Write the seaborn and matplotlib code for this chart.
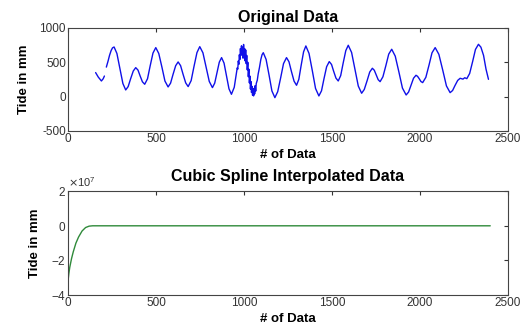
import numpy as np
import pandas as pd
import matplotlib
matplotlib.use("Agg")
import matplotlib.pyplot as plt
import seaborn as sns
from matplotlib.ticker import ScalarFormatter

sns.set_style("white")
plt.rcParams['font.family'] = ['Liberation Sans', 'DejaVu Sans']
plt.rcParams['axes.unicode_minus'] = False
plt.rcParams['text.color'] = 'black'
plt.rcParams['axes.labelcolor'] = 'black'

# ---- Original data, two segments (small gap near x~210)
seg1_x = [157, 172, 190, 200, 207]
seg1_y = [350, 285, 228, 260, 300]

seg2_x = [218, 228, 236, 245, 253, 262, 278, 295, 312, 328, 342, 356, 371, 385,
          398, 410, 423, 436, 452, 467, 483, 499, 516, 534, 551, 569, 583, 597,
          612, 626, 640, 654, 669, 683, 700, 716, 733, 749, 767, 785, 803, 821,
          834, 847, 860, 873, 887, 901, 915, 929, 945, 955,
          962, 965, 968, 971, 974, 977, 980, 983, 986, 989, 992, 995, 998, 1001,
          1004, 1007, 1010, 1013, 1016, 1019, 1022, 1025, 1028, 1031, 1034, 1037,
          1040, 1043, 1046, 1049, 1052, 1055, 1058, 1061, 1064, 1067, 1070,
          1076, 1081, 1088, 1096, 1103, 1110, 1126, 1143, 1159, 1176, 1192, 1209,
          1225, 1242, 1256, 1270, 1285, 1299, 1312, 1325, 1339, 1352, 1370, 1389,
          1407, 1426, 1441, 1455, 1470, 1485, 1498, 1510, 1523, 1536, 1550, 1564,
          1579, 1593, 1612, 1631, 1650, 1669, 1684, 1700, 1715, 1730, 1741, 1752,
          1763, 1774, 1790, 1807, 1823, 1840, 1860, 1881, 1901, 1922, 1936, 1950,
          1964, 1978, 1987, 1997, 2006, 2016, 2034, 2052, 2069, 2087, 2108, 2130,
          2151, 2172, 2186, 2200, 2215, 2229, 2245, 2255, 2267, 2283, 2300, 2316,
          2333, 2347, 2362, 2376, 2390]
seg2_y = [430, 520, 600, 670, 710, 723, 629, 410, 191, 97, 146, 260, 373, 422,
          386, 301, 216, 180, 260, 447, 634, 714, 628, 428, 227, 141, 196, 323,
          450, 505, 451, 326, 200, 146, 233, 437, 641, 728, 638, 430, 221, 131,
          197, 350, 502, 568, 488, 301, 114, 34, 136, 300,
          420, 400, 520, 470, 610, 540, 700, 600, 740, 630, 720, 560, 760, 600,
          700, 520, 680, 480, 600, 390, 500, 290, 400, 200, 300, 110,
          220, 60, 150, 20, 110, 10, 120, 40, 160, 80, 190,
          240, 330, 420, 540, 610, 640, 542, 312, 83, -15, 72, 277,
          481, 568, 508, 366, 225, 165, 251, 451, 652, 738, 629, 374,
          119, 10, 85, 260, 435, 510, 468, 369, 270, 228, 306, 488,
          670, 748, 643, 398, 154, 49, 104, 231, 358, 413, 384, 316,
          247, 218, 289, 454, 619, 690, 590, 357, 124, 24, 67, 168,
          268, 311, 295, 258, 220, 204, 281, 459, 638, 714, 616, 386,
          156, 58, 89, 163, 236, 267, 255, 275, 262, 337, 512, 687,
          762, 720, 600, 400, 252]

# ---- Cubic spline interpolated data
spline_x = [0, 5, 10, 20, 30, 45, 60, 80, 100, 120, 140, 2400]
spline_y = [-3.2e7, -2.75e7, -2.4e7, -1.9e7, -1.5e7, -1.0e7, -0.65e7, -0.3e7,
            -0.1e7, -0.02e7, 0.0, 0.0]

orig = pd.DataFrame({
    "x": seg1_x + seg2_x,
    "y": seg1_y + seg2_y,
    "seg": [1] * len(seg1_x) + [2] * len(seg2_x),
})
spl = pd.DataFrame({"x": spline_x, "y": spline_y})

fig = plt.figure(figsize=(5.23, 3.29), dpi=100)
ax1 = fig.add_axes([0.130, 0.602, 0.841, 0.313])
ax2 = fig.add_axes([0.130, 0.103, 0.841, 0.316])

sns.lineplot(data=orig, x="x", y="y", units="seg", estimator=None,
             color="#1010e8", linewidth=1.0, ax=ax1)
sns.lineplot(data=spl, x="x", y="y", estimator=None,
             color="#2f8a3a", linewidth=1.0, ax=ax2)

for ax in (ax1, ax2):
    ax.set_xlim(0, 2500)
    ax.set_xticks([0, 500, 1000, 1500, 2000, 2500])
    ax.tick_params(direction="in", top=True, right=True, length=3,
                   width=0.8, labelsize=8.5, colors="#333333", pad=1.5)
    for s in ax.spines.values():
        s.set_color("#444444")
        s.set_linewidth(0.8)
    ax.set_xlabel("# of Data", fontsize=9.5, fontweight="bold", labelpad=3)
    ax.set_ylabel("Tide in mm", fontsize=9.5, fontweight="bold", labelpad=7)

ax1.set_ylim(-500, 1000)
ax1.set_yticks([-500, 0, 500, 1000])
ax1.set_title("Original Data", fontsize=11.5, fontweight="bold", pad=4)

ax2.set_ylim(-4e7, 2e7)
ax2.set_yticks([-4e7, -2e7, 0, 2e7])
fmt = ScalarFormatter(useMathText=True)
fmt.set_powerlimits((0, 0))
ax2.yaxis.set_major_formatter(fmt)
ax2.yaxis.get_offset_text().set_fontsize(8)
ax2.set_title("Cubic Spline Interpolated Data", fontsize=11.5,
              fontweight="bold", pad=7)

fig.savefig("out.png", dpi=100, facecolor="white")
